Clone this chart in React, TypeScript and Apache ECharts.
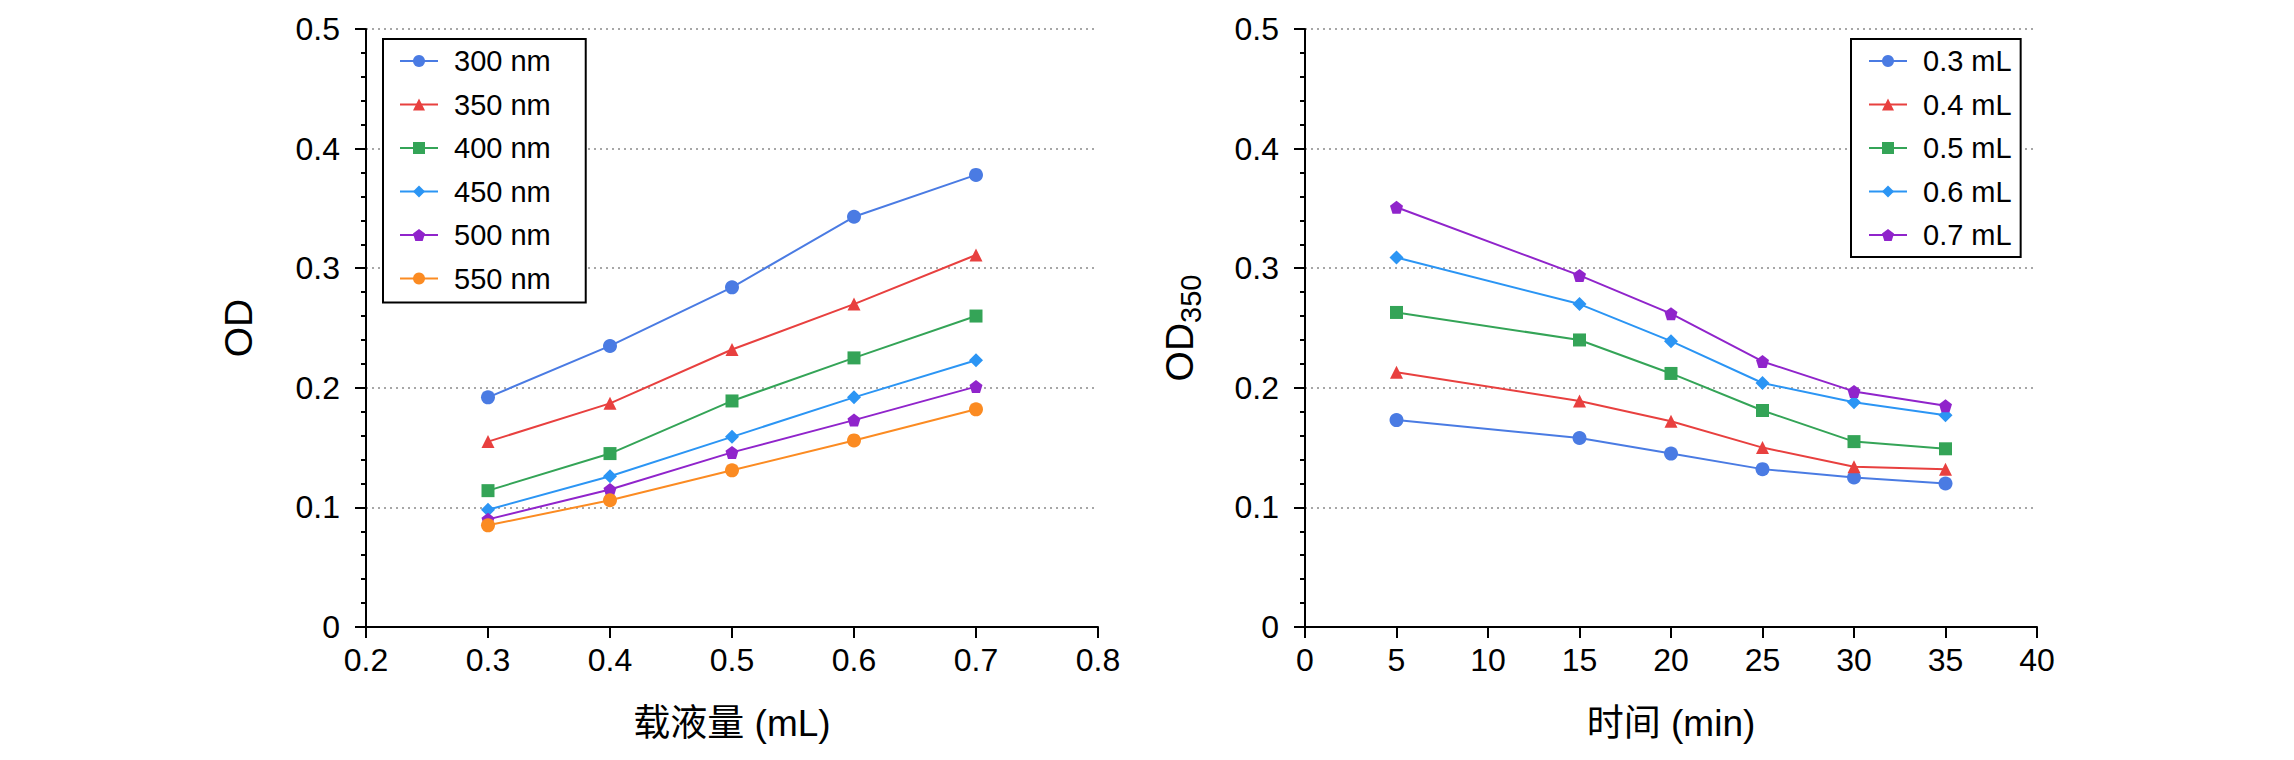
import React, { useEffect, useRef } from "react";
import * as echarts from "echarts";

// ---- Data (left panel): OD vs loading volume at several wavelengths ----
const volumes = [0.3, 0.4, 0.5, 0.6, 0.7];
const wavelengthNames = ["300 nm", "350 nm", "400 nm", "450 nm", "500 nm", "550 nm"];
const od300 = [0.192, 0.235, 0.284, 0.343, 0.378];
const od350 = [0.155, 0.187, 0.232, 0.270, 0.311];
const od400 = [0.114, 0.145, 0.189, 0.225, 0.260];
const od450 = [0.098, 0.126, 0.159, 0.192, 0.223];
const od500 = [0.090, 0.115, 0.146, 0.173, 0.201];
const od550 = [0.085, 0.106, 0.131, 0.156, 0.182];
const leftValues = [od300, od350, od400, od450, od500, od550];

// ---- Data (right panel): OD350 vs time at several loading volumes ----
const times = [5, 15, 20, 25, 30, 35];
const volumeNames = ["0.3 mL", "0.4 mL", "0.5 mL", "0.6 mL", "0.7 mL"];
const v03 = [0.173, 0.158, 0.145, 0.132, 0.125, 0.120];
const v04 = [0.213, 0.189, 0.172, 0.150, 0.134, 0.132];
const v05 = [0.263, 0.240, 0.212, 0.181, 0.155, 0.149];
const v06 = [0.309, 0.270, 0.239, 0.204, 0.188, 0.177];
const v07 = [0.351, 0.294, 0.262, 0.222, 0.197, 0.185];
const rightValues = [v03, v04, v05, v06, v07];

const PENTAGON = "path://M0,-1L0.951,-0.309L0.588,0.809L-0.588,0.809L-0.951,-0.309Z";
const leftColors = ["#4a7be3", "#e8403f", "#34a457", "#2b95f4", "#9024cb", "#fb8b22"];
const leftSymbols = ["circle", "triangle", "rect", "diamond", PENTAGON, "circle"];
const leftSizes = [14, 13, 13, 14, 13, 14];
const rightColors = ["#4a7be3", "#e8403f", "#34a457", "#2b95f4", "#9024cb"];
const rightSymbols = ["circle", "triangle", "rect", "diamond", PENTAGON];
const rightSizes = [14, 13, 13, 14, 13];

const FONT = "'Liberation Sans', Arial, Helvetica, sans-serif";
const FONT_CJK = "'Liberation Sans', 'Noto Sans CJK SC', sans-serif";

function yAxisBase(gridIndex: number, name: string, rich?: any) {
  return {
    type: "value",
    gridIndex,
    min: 0,
    max: 0.5,
    interval: 0.1,
    name,
    nameLocation: "middle",
    nameGap: 108,
    nameTextStyle: { fontSize: 39, color: "#000", fontFamily: FONT, rich },
    axisLine: { show: true, onZero: false, lineStyle: { color: "#000", width: 2 } },
    axisTick: { show: true, length: 11, lineStyle: { color: "#000", width: 2 } },
    minorTick: { show: true, splitNumber: 5, length: 5, lineStyle: { color: "#000", width: 2 } },
    splitLine: { show: true, lineStyle: { color: "#8a8a8a", width: 1.5, type: [2, 4] } },
    axisLabel: {
      fontSize: 32,
      color: "#000",
      fontFamily: FONT,
      margin: 26,
      formatter: (v: number) => (v === 0 ? "0" : v.toFixed(1)),
    },
  };
}

function xAxisBase(gridIndex: number, min: number, max: number, interval: number, name: string, fmt: (v: number) => string) {
  return {
    type: "value",
    gridIndex,
    min,
    max,
    interval,
    name,
    nameLocation: "middle",
    nameGap: 78,
    nameTextStyle: { fontSize: 37, color: "#000", fontFamily: FONT_CJK },
    axisLine: { show: true, onZero: false, lineStyle: { color: "#000", width: 2 } },
    axisTick: { show: true, length: 11, lineStyle: { color: "#000", width: 2 } },
    splitLine: { show: false },
    axisLabel: { fontSize: 32, color: "#000", fontFamily: FONT, margin: 17, formatter: fmt },
  };
}

function legendBase(names: string[], left: number, padding: number[]) {
  return {
    data: names,
    orient: "vertical",
    left,
    top: 39,
    padding,
    itemWidth: 38,
    itemHeight: 15,
    itemGap: 13.5,
    backgroundColor: "#fff",
    borderColor: "#000",
    borderWidth: 2,
    borderRadius: 0,
    textStyle: { fontSize: 29, lineHeight: 30, color: "#000", fontFamily: FONT, padding: [0, 0, 0, 11] },
  };
}

export default function App() {
  const ref = useRef<HTMLDivElement>(null);
  useEffect(() => {
    if (!ref.current) return;
    const chart = echarts.init(ref.current, undefined, { renderer: "svg" });
    const series: any[] = [];
    leftValues.forEach((vals, i) => {
      series.push({
        type: "line",
        name: wavelengthNames[i],
        xAxisIndex: 0,
        yAxisIndex: 0,
        data: volumes.map((x, j) => [x, vals[j]]),
        symbol: leftSymbols[i],
        symbolSize: leftSizes[i],
        color: leftColors[i],
        lineStyle: { width: 2, color: leftColors[i] },
        itemStyle: { color: leftColors[i] },
      });
    });
    rightValues.forEach((vals, i) => {
      series.push({
        type: "line",
        name: volumeNames[i],
        xAxisIndex: 1,
        yAxisIndex: 1,
        data: times.map((x, j) => [x, vals[j]]),
        symbol: rightSymbols[i],
        symbolSize: rightSizes[i],
        color: rightColors[i],
        lineStyle: { width: 2, color: rightColors[i] },
        itemStyle: { color: rightColors[i] },
      });
    });

    chart.setOption({
      animation: false,
      backgroundColor: "#fff",
      grid: [
        { left: 366, top: 29, width: 732, height: 598 },
        { left: 1305, top: 29, width: 732, height: 598 },
      ],
      xAxis: [
        xAxisBase(0, 0.2, 0.8, 0.1, "载液量 (mL)", (v: number) => v.toFixed(1)),
        xAxisBase(1, 0, 40, 5, "时间 (min)", (v: number) => String(Math.round(v))),
      ],
      yAxis: [
        yAxisBase(0, "OD"),
        {
          ...yAxisBase(1, "{a|OD}{b|350}", {
            a: { fontSize: 39, lineHeight: 52, fontFamily: FONT, color: "#000" },
            b: { fontSize: 29, lineHeight: 29, verticalAlign: "bottom", fontFamily: FONT, color: "#000" },
          }),
          nameGap: 100,
        },
      ],
      legend: [
        legendBase(wavelengthNames, 383, [7, 35, 9, 16]),
        legendBase(volumeNames, 1851, [7, 9, 7, 17]),
      ],
      series,
    });
    return () => chart.dispose();
  }, []);
  return (
    <div
      ref={ref}
      style={{ position: "fixed", left: 0, top: 0, width: 2294, height: 760, background: "#fff" }}
    />
  );
}
